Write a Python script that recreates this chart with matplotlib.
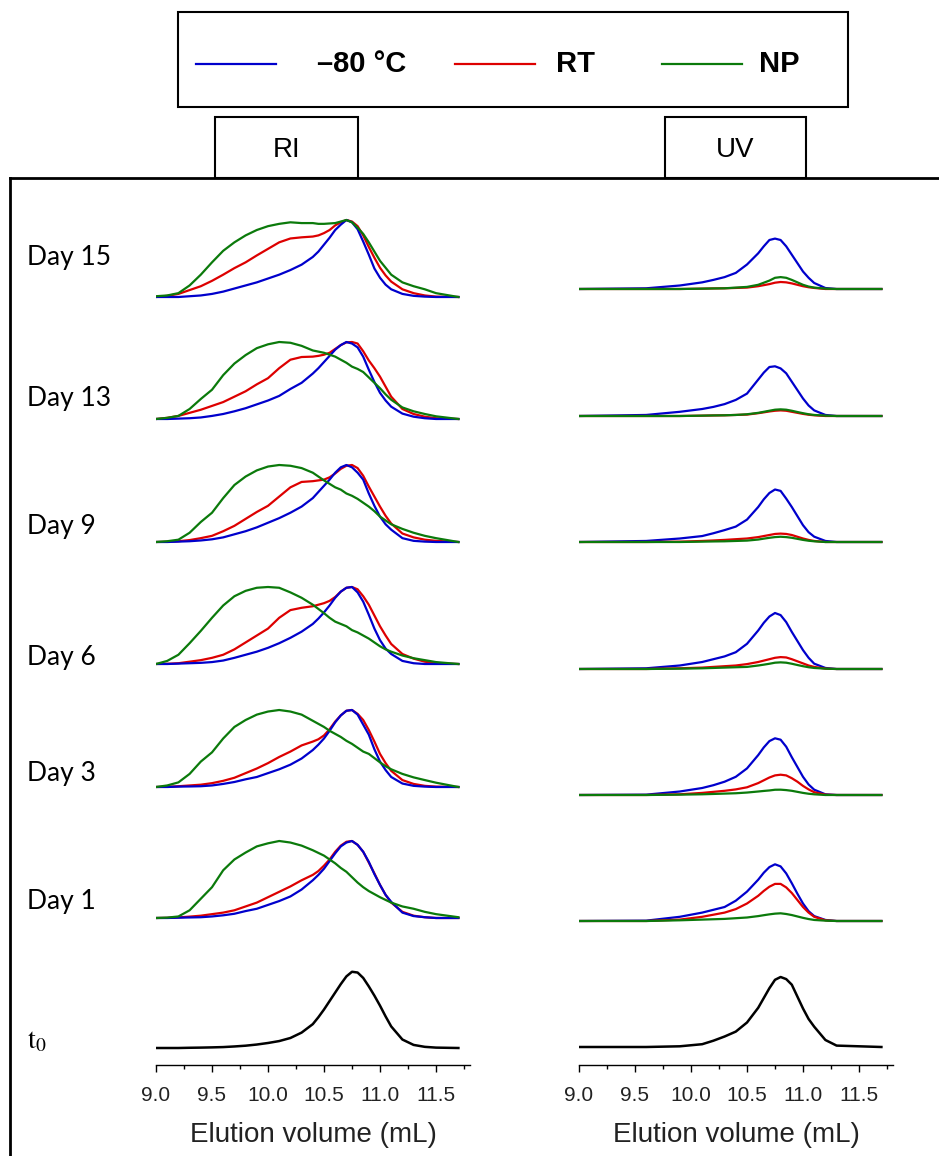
import matplotlib
matplotlib.use('Agg')
import matplotlib.pyplot as plt
from matplotlib.patches import Rectangle
from matplotlib.lines import Line2D

W, H = 939, 1156

days = ['Day 15', 'Day 13', 'Day 9', 'Day 6', 'Day 3', 'Day 1']
conditions = ['\u201380 \u00b0C', 'RT', 'NP']
colors = ['#0000cc', '#dd0000', '#0b7a0b']

# RI traces (normalised, peak = 1), rows Day 15 ... Day 1
ri_x = [9.0, 9.1, 9.2, 9.3, 9.4, 9.5, 9.6, 9.7, 9.8, 9.9, 10.0, 10.1, 10.2, 10.3, 10.4, 10.45,
        10.5, 10.55, 10.6, 10.65, 10.7, 10.75, 10.8, 10.85, 10.9, 10.95, 11.0, 11.05, 11.1,
        11.2, 11.3, 11.4, 11.5, 11.7]

ri_m80 = [
    [0, 0, 0, 0.01, 0.02, 0.04, 0.07, 0.11, 0.15, 0.19, 0.24, 0.29, 0.35, 0.42, 0.52, 0.59, 0.68, 0.77, 0.87, 0.94, 1.0, 0.97, 0.88, 0.72, 0.55, 0.37, 0.25, 0.16, 0.10, 0.04, 0.015, 0.005, 0, 0],
    [0, 0, 0.005, 0.01, 0.02, 0.04, 0.065, 0.10, 0.14, 0.19, 0.24, 0.30, 0.39, 0.47, 0.59, 0.66, 0.74, 0.82, 0.90, 0.96, 1.0, 0.98, 0.93, 0.81, 0.64, 0.48, 0.34, 0.24, 0.16, 0.07, 0.03, 0.01, 0, 0],
    [0, 0, 0.005, 0.01, 0.02, 0.035, 0.06, 0.10, 0.14, 0.19, 0.25, 0.31, 0.38, 0.46, 0.57, 0.65, 0.73, 0.81, 0.90, 0.97, 1.0, 0.97, 0.90, 0.81, 0.63, 0.47, 0.33, 0.23, 0.16, 0.05, 0.015, 0.005, 0, 0],
    [0, 0, 0.005, 0.01, 0.015, 0.025, 0.045, 0.08, 0.12, 0.16, 0.21, 0.27, 0.34, 0.42, 0.52, 0.59, 0.67, 0.76, 0.86, 0.94, 0.99, 1.0, 0.93, 0.81, 0.64, 0.46, 0.31, 0.20, 0.13, 0.04, 0.01, 0, 0, 0],
    [0, 0, 0.005, 0.007, 0.01, 0.02, 0.04, 0.065, 0.10, 0.13, 0.18, 0.23, 0.29, 0.37, 0.48, 0.55, 0.63, 0.73, 0.84, 0.93, 0.99, 1.0, 0.94, 0.81, 0.68, 0.49, 0.33, 0.22, 0.13, 0.045, 0.015, 0.005, 0, 0],
    [0, 0, 0.004, 0.007, 0.01, 0.02, 0.035, 0.055, 0.09, 0.12, 0.17, 0.22, 0.28, 0.37, 0.49, 0.56, 0.64, 0.74, 0.84, 0.93, 0.98, 1.0, 0.95, 0.86, 0.73, 0.57, 0.43, 0.30, 0.21, 0.07, 0.025, 0.01, 0, 0],
]
ri_rt = [
    [0, 0.015, 0.04, 0.09, 0.14, 0.21, 0.29, 0.375, 0.45, 0.54, 0.625, 0.71, 0.76, 0.775, 0.785, 0.80, 0.83, 0.87, 0.93, 0.97, 1.0, 0.98, 0.92, 0.80, 0.65, 0.51, 0.38, 0.28, 0.20, 0.10, 0.05, 0.02, 0.005, 0],
    [0, 0.015, 0.04, 0.08, 0.12, 0.17, 0.22, 0.29, 0.36, 0.45, 0.53, 0.66, 0.77, 0.805, 0.81, 0.82, 0.835, 0.86, 0.91, 0.96, 0.995, 1.0, 0.98, 0.88, 0.76, 0.66, 0.55, 0.42, 0.29, 0.13, 0.065, 0.03, 0.01, 0],
    [0, 0.003, 0.01, 0.025, 0.05, 0.08, 0.14, 0.21, 0.30, 0.39, 0.47, 0.59, 0.71, 0.78, 0.79, 0.80, 0.81, 0.84, 0.89, 0.95, 0.99, 1.0, 0.96, 0.86, 0.72, 0.59, 0.46, 0.34, 0.24, 0.11, 0.06, 0.03, 0.015, 0],
    [0, 0.003, 0.01, 0.03, 0.05, 0.08, 0.12, 0.19, 0.28, 0.37, 0.46, 0.60, 0.70, 0.73, 0.75, 0.77, 0.79, 0.82, 0.87, 0.94, 0.99, 1.0, 0.97, 0.88, 0.77, 0.63, 0.49, 0.37, 0.26, 0.13, 0.07, 0.03, 0.01, 0],
    [0, 0.003, 0.01, 0.02, 0.03, 0.05, 0.08, 0.12, 0.18, 0.24, 0.31, 0.39, 0.46, 0.54, 0.59, 0.62, 0.67, 0.75, 0.85, 0.93, 0.99, 1.0, 0.95, 0.87, 0.74, 0.59, 0.43, 0.31, 0.21, 0.09, 0.04, 0.015, 0.005, 0],
    [0, 0.002, 0.008, 0.018, 0.03, 0.05, 0.07, 0.10, 0.15, 0.20, 0.27, 0.34, 0.41, 0.49, 0.56, 0.61, 0.68, 0.76, 0.86, 0.94, 0.99, 1.0, 0.95, 0.86, 0.72, 0.58, 0.43, 0.30, 0.20, 0.08, 0.03, 0.01, 0, 0],
]
ri_np = [
    [0.01, 0.02, 0.05, 0.15, 0.29, 0.45, 0.60, 0.71, 0.80, 0.87, 0.92, 0.95, 0.97, 0.96, 0.96, 0.95, 0.95, 0.955, 0.96, 0.98, 1.0, 0.97, 0.90, 0.82, 0.71, 0.59, 0.47, 0.38, 0.29, 0.19, 0.14, 0.10, 0.05, 0],
    [0, 0.015, 0.04, 0.13, 0.26, 0.38, 0.57, 0.72, 0.83, 0.92, 0.97, 1.0, 0.99, 0.95, 0.89, 0.875, 0.86, 0.835, 0.81, 0.77, 0.73, 0.68, 0.65, 0.61, 0.54, 0.47, 0.40, 0.32, 0.25, 0.15, 0.10, 0.065, 0.035, 0],
    [0, 0.01, 0.03, 0.12, 0.26, 0.38, 0.57, 0.74, 0.85, 0.93, 0.98, 1.0, 0.99, 0.96, 0.90, 0.85, 0.80, 0.755, 0.71, 0.68, 0.63, 0.60, 0.56, 0.51, 0.46, 0.40, 0.33, 0.28, 0.23, 0.17, 0.12, 0.08, 0.05, 0],
    [0, 0.04, 0.12, 0.27, 0.43, 0.60, 0.76, 0.88, 0.95, 0.99, 1.0, 0.99, 0.93, 0.86, 0.77, 0.715, 0.66, 0.60, 0.55, 0.52, 0.49, 0.44, 0.41, 0.37, 0.33, 0.28, 0.23, 0.19, 0.16, 0.11, 0.075, 0.05, 0.025, 0],
    [0, 0.02, 0.06, 0.17, 0.33, 0.45, 0.63, 0.78, 0.87, 0.94, 0.98, 1.0, 0.98, 0.94, 0.86, 0.82, 0.78, 0.73, 0.69, 0.65, 0.60, 0.56, 0.51, 0.46, 0.43, 0.375, 0.32, 0.27, 0.23, 0.17, 0.125, 0.09, 0.056, 0],
    [0, 0.005, 0.02, 0.10, 0.25, 0.40, 0.62, 0.76, 0.85, 0.93, 0.97, 1.0, 0.98, 0.94, 0.88, 0.845, 0.81, 0.76, 0.71, 0.65, 0.60, 0.53, 0.46, 0.40, 0.35, 0.31, 0.27, 0.235, 0.20, 0.15, 0.12, 0.08, 0.05, 0.01],
]
ri_t0 = [0, 0, 0, 0.003, 0.005, 0.008, 0.012, 0.02, 0.03, 0.045, 0.065, 0.09, 0.13, 0.20, 0.31,
         0.40, 0.50, 0.61, 0.72, 0.83, 0.93, 0.99, 0.98, 0.91, 0.80, 0.68, 0.55, 0.41, 0.28,
         0.11, 0.04, 0.015, 0.005, 0]

# UV traces (relative to t0 peak = 1)
uv_x = [9.0, 9.6, 9.9, 10.1, 10.2, 10.3, 10.4, 10.5, 10.6, 10.65, 10.7, 10.75, 10.8, 10.85,
        10.9, 10.95, 11.0, 11.05, 11.1, 11.2, 11.3, 11.7]

uv_m80 = [
    [0, 0.01, 0.05, 0.095, 0.13, 0.17, 0.23, 0.35, 0.51, 0.61, 0.70, 0.72, 0.70, 0.61, 0.49, 0.37, 0.25, 0.16, 0.086, 0.014, 0, 0],
    [0, 0.015, 0.06, 0.10, 0.13, 0.17, 0.23, 0.32, 0.52, 0.62, 0.70, 0.71, 0.68, 0.61, 0.49, 0.37, 0.25, 0.15, 0.08, 0.015, 0, 0],
    [0, 0.015, 0.05, 0.085, 0.125, 0.17, 0.22, 0.32, 0.50, 0.61, 0.70, 0.75, 0.73, 0.62, 0.50, 0.37, 0.24, 0.14, 0.076, 0.015, 0, 0],
    [0, 0.01, 0.05, 0.10, 0.14, 0.18, 0.24, 0.36, 0.55, 0.66, 0.75, 0.80, 0.77, 0.67, 0.53, 0.40, 0.27, 0.16, 0.076, 0.015, 0, 0],
    [0, 0.005, 0.05, 0.10, 0.14, 0.19, 0.26, 0.38, 0.57, 0.68, 0.77, 0.81, 0.79, 0.69, 0.54, 0.40, 0.26, 0.15, 0.076, 0.01, 0, 0],
    [0, 0.005, 0.06, 0.12, 0.16, 0.20, 0.29, 0.42, 0.59, 0.69, 0.77, 0.81, 0.78, 0.68, 0.54, 0.39, 0.25, 0.14, 0.07, 0.015, 0, 0],
]
uv_rt = [
    [0, 0, 0, 0.005, 0.008, 0.01, 0.015, 0.02, 0.04, 0.055, 0.07, 0.09, 0.10, 0.095, 0.08, 0.06, 0.04, 0.025, 0.015, 0, 0, 0],
    [0, 0, 0, 0.005, 0.008, 0.01, 0.015, 0.02, 0.04, 0.052, 0.065, 0.075, 0.08, 0.075, 0.06, 0.045, 0.03, 0.018, 0.01, 0, 0, 0],
    [0, 0, 0.005, 0.015, 0.022, 0.03, 0.04, 0.05, 0.07, 0.085, 0.10, 0.115, 0.12, 0.115, 0.10, 0.075, 0.05, 0.03, 0.015, 0, 0, 0],
    [0, 0, 0.01, 0.02, 0.03, 0.04, 0.05, 0.07, 0.10, 0.12, 0.14, 0.16, 0.17, 0.165, 0.14, 0.11, 0.08, 0.05, 0.03, 0.005, 0, 0],
    [0, 0, 0.01, 0.03, 0.045, 0.06, 0.08, 0.11, 0.17, 0.21, 0.25, 0.28, 0.29, 0.28, 0.24, 0.19, 0.13, 0.08, 0.04, 0.005, 0, 0],
    [0, 0, 0.02, 0.06, 0.09, 0.12, 0.17, 0.25, 0.36, 0.43, 0.49, 0.53, 0.53, 0.48, 0.40, 0.30, 0.20, 0.12, 0.06, 0.01, 0, 0],
]
uv_np = [
    [0, 0, 0, 0.005, 0.008, 0.01, 0.02, 0.03, 0.06, 0.09, 0.12, 0.16, 0.17, 0.16, 0.13, 0.095, 0.06, 0.035, 0.02, 0.005, 0, 0],
    [0, 0, 0, 0.005, 0.008, 0.01, 0.015, 0.025, 0.045, 0.06, 0.075, 0.09, 0.095, 0.09, 0.075, 0.057, 0.04, 0.025, 0.015, 0.005, 0, 0],
    [0, 0, 0, 0.005, 0.008, 0.01, 0.015, 0.02, 0.035, 0.048, 0.06, 0.07, 0.075, 0.07, 0.06, 0.045, 0.03, 0.018, 0.01, 0, 0, 0],
    [0, 0, 0.005, 0.01, 0.015, 0.02, 0.025, 0.03, 0.05, 0.062, 0.075, 0.09, 0.095, 0.09, 0.075, 0.057, 0.04, 0.025, 0.015, 0.005, 0, 0],
    [0, 0, 0.005, 0.01, 0.015, 0.02, 0.025, 0.035, 0.05, 0.058, 0.065, 0.075, 0.076, 0.07, 0.06, 0.045, 0.03, 0.018, 0.01, 0, 0, 0],
    [0, 0, 0.01, 0.02, 0.025, 0.03, 0.04, 0.05, 0.07, 0.083, 0.095, 0.105, 0.11, 0.10, 0.085, 0.065, 0.045, 0.028, 0.015, 0.005, 0, 0],
]
uv_t0 = [0, 0, 0.01, 0.04, 0.09, 0.15, 0.22, 0.35, 0.56, 0.70, 0.84, 0.96, 1.0, 0.97, 0.89,
         0.72, 0.55, 0.40, 0.29, 0.10, 0.02, 0]

# layout: stacking offsets (pixels above the x axis) and trace heights
ri_offset = [768, 646, 523, 401, 278, 147, 17]
uv_offset = [776, 649, 523, 396, 270, 144, 18]
ri_height = 77
uv_height = 70
label_y = [257, 398, 527, 658, 773, 901, 1040]


def fx(px):
    return px / W


def fy(py):
    return 1 - py / H


plt.rcParams['mathtext.fontset'] = 'stix'
fig = plt.figure(figsize=(W / 100, H / 100), dpi=100)

ax_ri = fig.add_axes([fx(156), fy(1065), 314 / W, 865 / H])
ax_uv = fig.add_axes([fx(579), fy(1065), 314 / W, 865 / H])

for ax in (ax_ri, ax_uv):
    ax.set_xlim(9.0, 9.0 + 314 / 112)
    ax.set_ylim(0, 865)
    for s in ('left', 'right', 'top'):
        ax.spines[s].set_visible(False)
    ax.spines['bottom'].set_linewidth(1.0)
    ax.set_yticks([])
    ax.set_xticks([9.0, 9.5, 10.0, 10.5, 11.0, 11.5])
    ax.set_xticks([9.25, 9.75, 10.25, 10.75, 11.25, 11.75], minor=True)
    ax.tick_params(axis='x', which='major', length=5, width=1, pad=10,
                   labelsize=15, labelcolor='#222222')
    ax.tick_params(axis='x', which='minor', length=3, width=1)
    for t in ax.get_xticklabels():
        t.set_fontfamily('Liberation Sans')
    ax.set_xlabel('Elution volume (mL)', fontsize=20, family='Liberation Sans',
                  color='#222222', labelpad=12)
    ax.patch.set_alpha(0)

for i in range(len(days)):
    for vals, c in ((ri_rt[i], colors[1]), (ri_m80[i], colors[0]), (ri_np[i], colors[2])):
        ax_ri.plot(ri_x, [ri_offset[i] + v * ri_height for v in vals], color=c, lw=1.6)
    for vals, c in ((uv_m80[i], colors[0]), (uv_rt[i], colors[1]), (uv_np[i], colors[2])):
        ax_uv.plot(uv_x, [uv_offset[i] + v * uv_height for v in vals], color=c, lw=1.6)

ax_ri.plot(ri_x, [ri_offset[-1] + v * ri_height for v in ri_t0], color='black', lw=1.8)
ax_uv.plot(uv_x, [uv_offset[-1] + v * uv_height for v in uv_t0], color='black', lw=1.8)

# row labels
for name, y in zip(days, label_y):
    fig.text(fx(27), fy(y), name, fontsize=19, family='Lato', va='center', ha='left')
fig.text(fx(27), fy(label_y[-1]), r'$\mathrm{t_0}$', fontsize=20, va='center', ha='left')

# outer frame
fig.add_artist(Line2D([fx(10), 1], [fy(178), fy(178)], color='black', lw=2))
fig.add_artist(Line2D([fx(10), fx(10)], [fy(178), 0], color='black', lw=2))

# detector boxes
for x0, x1, txt in ((215, 358, 'RI'), (665, 806, 'UV')):
    fig.add_artist(Rectangle((fx(x0), fy(178)), (x1 - x0) / W, 61 / H,
                             facecolor='none', edgecolor='black', lw=1.5))
    fig.text(fx((x0 + x1) / 2), fy(150), txt, fontsize=20, ha='center', va='center',
             family='Liberation Sans')

# legend box
fig.add_artist(Rectangle((fx(178), fy(107)), 670 / W, 95 / H,
                         facecolor='none', edgecolor='black', lw=1.5))
leg_line = [(196, 276), (455, 535), (662, 742)]
leg_text = [317, 556, 759]
for (x0, x1), tx, lab, c in zip(leg_line, leg_text, conditions, colors):
    fig.add_artist(Line2D([fx(x0), fx(x1)], [fy(64), fy(64)], color=c, lw=1.6))
    fig.text(fx(tx), fy(64), lab, fontsize=21, fontweight='bold', ha='left', va='center',
             family='Liberation Sans')

fig.savefig('out.png', dpi=100)
